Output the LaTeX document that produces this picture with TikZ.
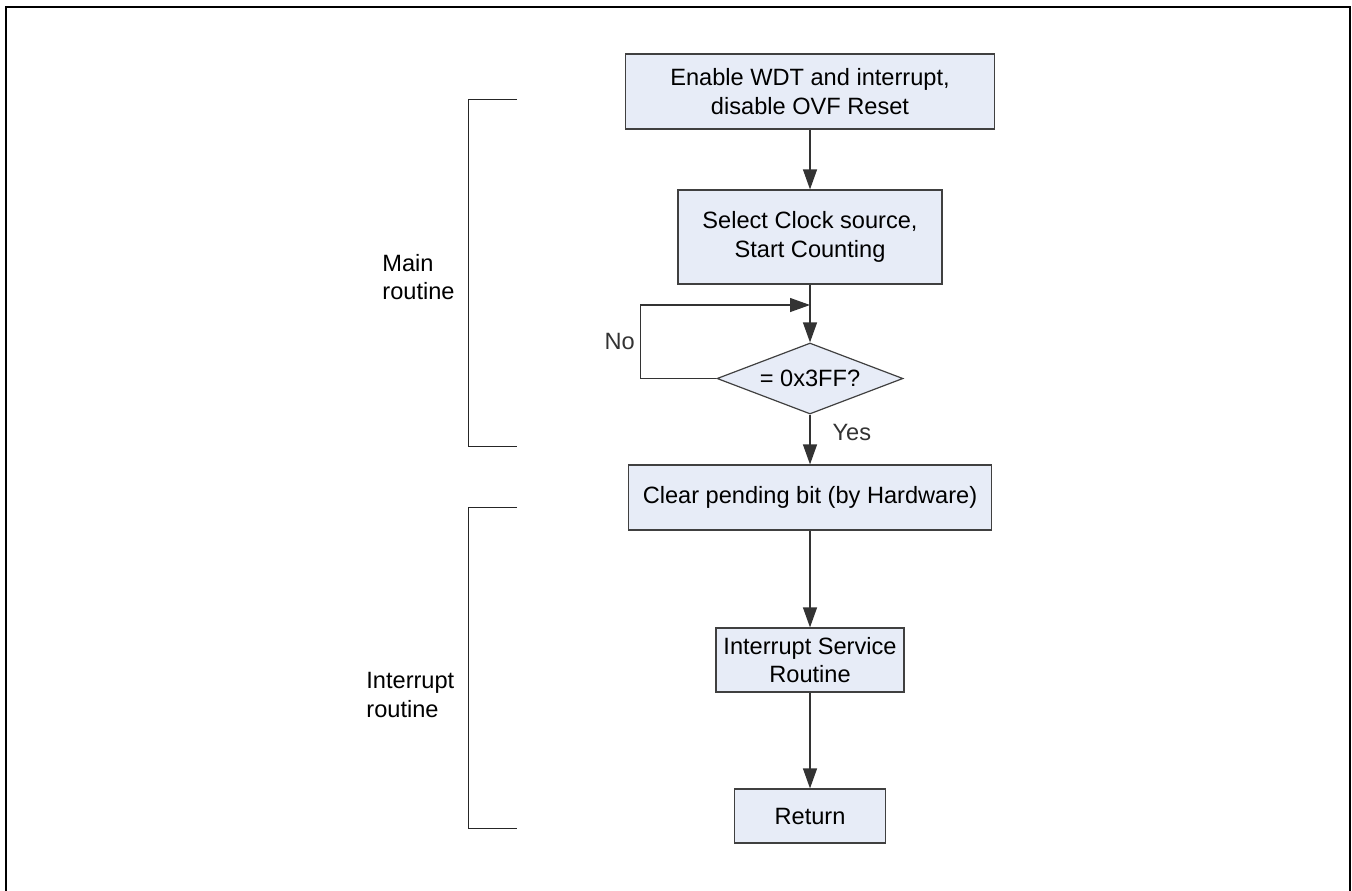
\documentclass[tikz,border=0pt]{standalone}
\usepackage{fontspec}
\setmainfont{Liberation Sans}
\usetikzlibrary{shapes.geometric, arrows.meta, positioning}
\definecolor{boxfill}{HTML}{E7ECF7}
\definecolor{boxline}{HTML}{404040}

\begin{document}
\begin{tikzpicture}[
    x=0.5pt, y=-0.5pt,
    font=\fontsize{11.8}{14.2}\selectfont,
    arr/.style={-{Triangle[length=10pt, width=7pt]}, line width=0.6pt, black!80},
    lbl/.style={inner sep=0pt},
    proc/.style={rectangle, draw=boxline, fill=boxfill, line width=0.6pt, align=center, inner sep=2pt},
    cond/.style={diamond, draw=boxline, fill=boxfill, line width=0.6pt, inner sep=0pt, aspect=2.6, minimum width=93pt, minimum height=35.5pt},
    brace/.style={line width=0.5pt, black!85},
    side/.style={align=left, anchor=west, inner sep=0pt},
]
\useasboundingbox (0,0) rectangle (1352,890);
% Frame
\draw[line width=1pt] (6,6.5) rectangle (1349.5,900);

% Flow
\node[proc, minimum width=184.5pt, minimum height=37.5pt] (enable) at (810,91.5) {Enable WDT and interrupt,\\disable OVF Reset};
\node[proc, minimum width=132pt, minimum height=47pt] (clock) at (810,237) {Select Clock source,\\Start Counting};
\node[cond] (check) at (810,378.5) {= 0x3FF?};
\node[proc, minimum width=181.5pt, minimum height=32.5pt] (clear) at (810,497.5) {Clear pending bit (by Hardware)};
\node[proc, minimum width=94pt, minimum height=32pt] (isr) at (810,660) {Interrupt Service\\Routine};
\node[proc, minimum width=75.5pt, minimum height=27pt] (ret) at (810,816) {Return};
\coordinate (join) at (810,305);

\draw[arr] (enable) -- (clock);
\draw[arr] (clock) -- (check);
\draw[arr] (check.west) -- ++(-76,0) |- node[lbl, pos=0.25, left=2.5pt] {No} (join);
\draw[arr] (check) -- node[lbl, pos=0.35, right=11pt] {Yes} (clear);
\draw[arr] (clear) -- (isr);
\draw[arr] (isr) -- (ret);

% Routine brackets
\coordinate (mtop) at (517,99);
\coordinate (mbot) at (517,446);
\coordinate (itop) at (517,507);
\coordinate (ibot) at (517,828);
\draw[brace] (mtop) -- ++(-49,0) |- (mbot);
\draw[brace] (itop) -- ++(-49,0) |- (ibot);
\node[side] (mainlbl) at (382,277) {Main\\routine};
\node[side] (intlbl) at (366,695) {Interrupt\\routine};

\end{tikzpicture}
\end{document}
